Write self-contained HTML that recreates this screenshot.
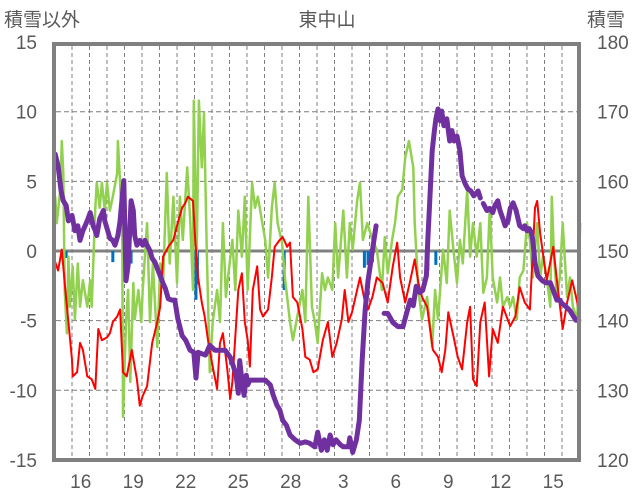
<!DOCTYPE html>
<html><head><meta charset="utf-8"><style>
html,body{margin:0;padding:0;background:#fff;}
svg{display:block;font-family:"Liberation Sans","Noto Sans CJK JP",sans-serif;}
</style></head><body>
<svg id="chart" width="636" height="501" viewBox="0 0 636 501" xmlns="http://www.w3.org/2000/svg">
<text x="4" y="26" font-size="19" fill="#595959">積雪以外</text>
<text x="327" y="26" font-size="19" fill="#595959" text-anchor="middle">東中山</text>
<text x="587" y="26" font-size="19" fill="#595959">積雪</text>
<g id="grid"></g>
<g id="ticks"></g>
<g id="series"></g>
<rect x="54" y="44" width="525" height="416" fill="none" stroke="#808080" stroke-width="4"/>
</svg>
<script>
const leftTicks=[15,10,5,0,-5,-10,-15];
const rightTicks=[180,170,160,150,140,130,120];
const dayLabels=["16","19","22","25","28","3","6","9","12","15"];
const redH=[1,5,10,14,19,24,25,31,35,39,45,51,56,60,65,72,76,80,86,90,94,99,106,113,117,121,127,134,141,145,149,156,163,169,175,179,183,190,193,197,202,206,211,217,223,227,231,237,241,244,252,257,261,265,268,272,278,282,286,293,298,302,309,313,319,323,327,333,340,344,350,355,361,368,375,381,387,394,398,403,408,415,419,426,430,436,442,450,457,464,470,474,481,488,494,499,504,511,519,526,531,536,540,547,553,559,566,570,574,579,584,590,596,601,608,615,625,632,638,645,652,659,662,666,675,684,689,697,703,710,717,721];
const redV=[-0.8,-1.4,0.1,-2.3,-5.1,-7.8,-9.0,-8.7,-6.6,-7.1,-9.0,-9.2,-9.9,-5.6,-6.4,-6.2,-5.9,-5.1,-4.7,-4.2,-8.7,-9.0,-7.1,-9.2,-11.1,-10.4,-9.7,-6.6,-5.1,-4.0,-0.4,0.3,0.8,2.0,3.1,3.4,3.9,3.6,0.8,-1.9,-3.7,-4.7,-6.6,-8.3,-9.9,-6.6,-5.9,-8.5,-10.6,-9.4,-2.8,-1.6,-5.1,-6.4,-8.3,-2.8,-1.1,-4.2,-4.7,-4.2,-1.9,0.3,0.8,1.0,0.3,0.6,-3.3,-3.7,-5.6,-7.6,-7.8,-8.7,-8.5,-6.4,-5.1,-7.6,-6.6,-4.9,-2.8,-5.1,-4.4,-2.8,-1.9,-3.7,-4.2,-3.3,-1.9,-2.3,-3.7,-1.1,0.6,-1.9,-3.7,-2.1,-0.6,-2.3,-3.3,-4.0,-7.1,-7.6,-8.7,-7.1,-4.4,-6.1,-7.6,-8.5,-5.1,-4.0,-9.2,-9.7,-5.1,-3.7,-9.0,-5.6,-6.6,-4.0,-5.4,-4.7,-2.6,-3.7,-4.2,3.1,3.6,1.3,-2.1,0.3,-2.1,-5.6,-3.7,-2.1,-3.7,-5.1];
const greenH=[1,3,8,10,12,14,17,19,21,25,28,32,35,39,45,49,51,56,58,62,65,69,72,76,80,86,87,90,93,94,98,101,104,108,110,115,119,121,127,131,135,141,145,149,154,158,163,168,172,176,182,186,190,191,195,198,202,205,209,213,217,223,227,231,235,238,244,248,252,257,261,265,271,275,279,285,289,293,298,302,306,312,316,323,327,333,340,344,348,353,357,361,367,371,375,381,385,389,396,401,405,409,415,419,423,429,436,442,449,453,457,463,467,471,477,481,486,492,494,499,504,511,518,522,526,533,538,542,547,552,556,560,566,570,574,579,584,588,593,597,601,607,611,615,621,625,629,634,638,643,648,652,656,662,666,670,675,680,682,685,689,693,697,703,707,711,717,721];
const greenV=[3.9,2.0,4.4,7.9,5.6,-2.8,-5.9,-0.4,-4.0,-1.1,-4.9,-0.9,-4.0,-2.1,-4.0,-2.1,-4.0,3.1,4.9,3.1,4.9,2.9,4.9,2.9,3.9,5.6,7.9,4.9,0.8,-11.9,-5.1,-2.8,-9.4,-2.3,-4.9,-2.8,-5.1,-2.8,2.0,-5.1,-0.9,-6.9,-0.9,-2.3,5.6,-0.9,3.9,-2.3,3.9,0.8,6.0,2.4,-2.8,10.8,-0.4,10.8,6.0,9.9,-0.4,-8.7,-5.1,-2.8,-5.1,2.0,-3.3,-1.9,0.8,-2.8,2.9,-0.4,3.9,-2.8,4.9,3.1,3.9,2.0,0.8,-1.9,3.1,4.9,2.0,0.6,-1.9,-5.1,-6.4,-4.7,-2.8,-5.1,3.9,-4.0,-5.1,-6.6,-1.6,-2.8,-1.9,-2.8,2.0,-1.9,2.9,-1.9,2.0,0.1,3.6,4.9,0.8,2.0,0.8,0.1,-2.8,1.0,-1.6,0.8,2.0,3.9,4.4,6.7,7.9,6.0,2.0,-2.8,-4.9,-3.3,-6.9,-2.8,-4.9,0.1,-2.3,2.9,0.1,-2.3,0.8,-0.9,4.4,-0.4,2.0,-0.4,2.0,-3.0,-1.9,3.1,-1.9,-3.7,-1.9,-4.0,-3.3,-4.0,-3.3,-4.9,-1.9,-1.4,2.0,0.8,-1.9,2.0,-1.9,-0.4,-1.9,-4.0,3.9,-0.4,-3.3,-1.9,2.0,-3.3,-1.9,-4.0,-4.9,2.0];
const snowH=[1,5,9,12,16,19,24,28,32,35,39,42,46,49,53,56,58,62,67,69,73,76,80,83,87,90,93,95,98,101,105,108,110,113,117,121,124,127,131,134,138,142,145,149,152,156,161,165,169,175,180,186,191,194,197,207,213,220,227,234,241,245,249,252,254,257,260,263,265,268,275,289,296,300,305,309,313,318,323,330,337,344,350,357,361,366,370,374,378,382,386,392,396,403,405,409,414,418,422,426,430,434,438,441,null,452,457,464,471,478,483,488,492,496,501,505,510,512,515,518,521,523,526,529,531,534,538,542,545,548,552,556,559,563,567,571,575,581,584,null,588,593,597,601,604,608,611,615,618,622,625,629,633,638,643,645,648,651,654,656,659,663,669,674,680,684,689,693,696,700,707,711,715,719];
const snowV=[164.0,162.3,158.7,157.3,156.6,154.4,155.2,153.0,153.7,151.6,153.0,153.7,154.7,155.6,153.7,153.0,152.3,154.7,155.9,154.4,153.0,151.9,151.6,150.9,152.3,154.4,158.0,160.2,145.8,148.0,157.3,155.9,152.3,150.9,151.6,150.9,151.6,150.9,150.1,149.0,148.4,147.3,146.5,145.4,144.7,143.2,143.0,143.0,140.4,137.9,137.2,135.8,135.5,131.8,135.5,135.1,136.5,135.8,135.8,135.8,134.8,133.6,132.2,129.6,134.3,131.5,129.3,132.2,130.8,131.5,131.5,131.5,130.8,129.3,127.9,127.2,125.7,125.0,123.6,122.9,122.4,122.6,122.4,121.9,124.0,121.4,122.9,121.4,123.6,122.2,122.9,122.2,121.9,121.9,123.2,121.1,122.9,125.7,134.4,141.5,145.8,148.7,151.6,153.7,null,141.1,141.1,139.8,139.2,139.2,141.2,143.0,142.2,145.0,144.1,144.4,146.5,151.6,158.0,164.5,167.4,169.1,170.5,168.8,170.2,168.1,169.1,165.9,167.4,165.9,166.6,164.5,160.9,159.8,159.0,158.7,158.0,158.7,157.7,null,156.9,155.9,156.2,155.6,156.6,157.3,155.9,154.7,153.7,154.4,156.2,157.0,155.9,153.7,153.3,153.7,153.0,153.3,152.7,151.6,148.4,146.5,145.8,145.5,145.5,144.4,143.0,143.0,142.5,142.2,141.5,140.8,140.1,140.1];
const precipH=[16,80,105,194,196,315,425,430,436,510,512,523];
const precipV=[-0.5,-0.8,-0.9,-3.5,-2.4,-2.8,-1.2,-1.0,-0.8,-2.1,-1.4,-1.0];

const NS='http://www.w3.org/2000/svg';
const X0=54.5, PXH=17.5/24;
function xS(h){return X0+h*PXH;}
function yL(v){return 251-v*13.93;}
function yR(s){return 460-(s-120)*6.95;}
function mk(tag,attrs,parent){const e=document.createElementNS(NS,tag);for(const k in attrs)e.setAttribute(k,attrs[k]);parent.appendChild(e);return e;}
const grid=document.getElementById('grid'),ticks=document.getElementById('ticks'),series=document.getElementById('series');
for(let d=1;d<30;d++){
  const l=mk('line',{x1:xS(d*24),x2:xS(d*24),y1:46,y2:458,stroke:'#7f7f7f','stroke-width':1,'stroke-dasharray':'4,3'},grid);
  
  
}
leftTicks.forEach((v,i)=>{
  if(v!==15&&v!==-15&&v!==0){
    const l=mk('line',{x1:56,x2:577,y1:yL(v),y2:yL(v),stroke:'#7f7f7f','stroke-width':1,'stroke-dasharray':'5,3'},grid);
    
    
  }
  const t=mk('text',{x:37,y:yL(v)+7,'font-size':19,fill:'#595959','text-anchor':'end'},ticks);
  t.textContent=v;
  
  
  const r=mk('text',{x:597,y:yL(v)+7,'font-size':19,fill:'#595959'},ticks);
  r.textContent=rightTicks[i];
  
  
});
const zl=mk('line',{x1:56,x2:577,y1:yL(0),y2:yL(0),stroke:'#808080','stroke-width':3},grid);


dayLabels.forEach((s,i)=>{
  const t=mk('text',{x:xS(36+i*72),y:488,'font-size':19,fill:'#595959','text-anchor':'middle'},ticks);
  t.textContent=s;
  
  
});
precipH.forEach((h,i)=>{
  const b=mk('rect',{x:xS(h)-1.5,y:yL(0),width:3,height:yL(precipV[i])-yL(0),fill:'#0070c0'},series);
  
  
});
function path(H,V,yf){let d='',pen=false;for(let i=0;i<H.length;i++){if(H[i]===null||V[i]===null){pen=false;continue;}d+=(pen?'L':'M')+xS(H[i]).toFixed(1)+','+yf(V[i]).toFixed(1);pen=true;}return d;}
const g=mk('path',{d:path(greenH,greenV,yL),fill:'none',stroke:'#92d050','stroke-width':2.5,'stroke-linejoin':'round'},series);


const r=mk('path',{d:path(redH,redV,yL),fill:'none',stroke:'#ff0000','stroke-width':2,'stroke-linejoin':'round'},series);


const p=mk('path',{d:path(snowH,snowV,yR),fill:'none',stroke:'#7030a0','stroke-width':5,'stroke-linejoin':'round','stroke-linecap':'round'},series);


</script>
</body></html>
